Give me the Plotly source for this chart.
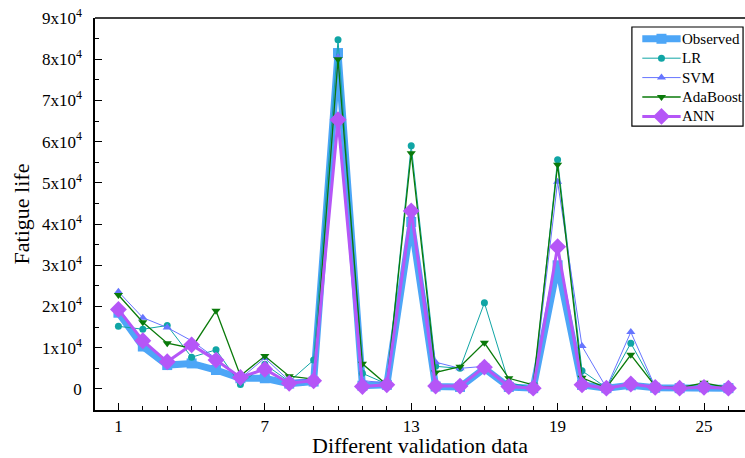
import plotly.graph_objects as go

# Validation sample index
samples = list(range(1, 27))

# Fatigue life: experimental vs. model predictions
observed = [18500, 10300, 5800, 6200, 4600, 2600, 2600, 1300, 1800, 81500, 800, 1000, 40500,
            600, 500, 5000, 500, 200, 30000, 1000, 200, 900, 300, 200, 400, 200]
lr = [15200, 14500, 15400, 7700, 9500, 1100, 6000, 1800, 7000, 84700, 3800, 1200, 59000,
      5500, 5000, 20900, 1500, 300, 55600, 4400, 300, 11100, 500, 300, 500, 300]
svm = [23600, 17300, 14900, 11700, 7400, 2500, 7500, 2000, 2500, 80500, 2000, 1500, 42000,
       6500, 5000, 5500, 1000, 300, 50300, 10400, 300, 13800, 500, 300, 600, 300]
adaboost = [22800, 16200, 11100, 9900, 19000, 3200, 8000, 3100, 2400, 80000, 6100, 1000, 57200,
            4000, 5400, 11200, 2600, 1000, 54400, 2700, 300, 8300, 700, 300, 1500, 300]
ann = [19300, 11700, 6600, 10700, 7000, 2800, 4800, 1400, 2000, 65300, 600, 1000, 43200,
       700, 700, 5300, 600, 200, 34500, 1000, 200, 1200, 400, 200, 400, 200]

series_names = ["Observed", "LR", "SVM", "AdaBoost", "ANN"]
series_values = [observed, lr, svm, adaboost, ann]

y_tickvals = [0, 10000, 20000, 30000, 40000, 50000, 60000, 70000, 80000, 90000]
y_ticktext = ["0"] + [f"{k}x10<sup>4</sup>" for k in range(1, 10)]
x_tickvals = [1, 7, 13, 19, 25]

FONT = "Liberation Serif"

# per-series styling
STYLES = {
    "Observed": dict(color="#4DA6F7", width=7, symbol="square", size=10),
    "LR": dict(color="#10A5A5", width=1, symbol="circle", size=7),
    "SVM": dict(color="#6675FF", width=1, symbol="triangle-up", size=8),
    "AdaBoost": dict(color="#0A7A0A", width=1.3, symbol="triangle-down", size=8),
    "ANN": dict(color="#B556F7", width=3, symbol="diamond", size=13),
}

fig = go.Figure()
for name, vals in zip(series_names, series_values):
    s = STYLES[name]
    fig.add_trace(go.Scatter(x=samples, y=vals, name=name, mode="lines+markers",
                             showlegend=False,
                             line=dict(color=s["color"], width=s["width"]),
                             marker=dict(symbol=s["symbol"], size=s["size"], color=s["color"])))

# Legend box drawn on a unit overlay axis (0..1 over the plot area)
LEG_X0, LEG_X1 = 0.826, 0.997
LEG_Y0, LEG_Y1 = 0.724, 0.977
LEG_ROW_TOP, LEG_ROW_STEP = 0.947, 0.0495
SAMPLE_X0, SAMPLE_X1 = 0.842, 0.901
TEXT_X = 0.903

fig.add_shape(type="rect", xref="paper", yref="paper", x0=LEG_X0, x1=LEG_X1,
              y0=LEG_Y0, y1=LEG_Y1, line=dict(color="black", width=1.2),
              fillcolor="white", layer="below")
for i, name in enumerate(series_names):
    s = STYLES[name]
    yy = LEG_ROW_TOP - i * LEG_ROW_STEP
    fig.add_trace(go.Scatter(x=[SAMPLE_X0, SAMPLE_X1], y=[yy, yy], xaxis="x2", yaxis="y2",
                             mode="lines", showlegend=False, hoverinfo="skip",
                             line=dict(color=s["color"], width=s["width"])))
    fig.add_trace(go.Scatter(x=[(SAMPLE_X0 + SAMPLE_X1) / 2], y=[yy], xaxis="x2", yaxis="y2",
                             mode="markers", showlegend=False, hoverinfo="skip",
                             marker=dict(symbol=s["symbol"], size=s["size"], color=s["color"])))
    fig.add_annotation(x=TEXT_X, y=yy, xref="x2", yref="y2", text=name, showarrow=False,
                       xanchor="left", yanchor="middle", xshift=-2,
                       font=dict(family=FONT, size=15, color="black"))

# top frame line (the right side is left open)
fig.add_shape(type="line", xref="paper", yref="paper", x0=0, x1=1, y0=1, y1=1,
              line=dict(color="black", width=1.5))

fig.update_layout(
    width=745, height=458,
    margin=dict(l=95, r=0, t=18, b=48),
    plot_bgcolor="white", paper_bgcolor="white",
    font=dict(family=FONT, size=17, color="black"),
    showlegend=False,
    xaxis=dict(range=[0.04, 26.68], tickvals=x_tickvals, ticks="inside", ticklen=7,
               tickwidth=1.2, tickcolor="black", showgrid=False, zeroline=False,
               showline=True, linecolor="black", linewidth=1.5,
               minor=dict(ticks="inside", ticklen=4, dtick=1, tick0=1, tickcolor="black",
                          showgrid=False),
               title=dict(text="Different validation data", font=dict(family=FONT, size=22),
                          standoff=5),
               tickfont=dict(family=FONT, size=17)),
    yaxis=dict(range=[-5100, 90000], tickvals=y_tickvals, ticktext=y_ticktext,
               ticks="inside", ticklen=7, tickwidth=1.2, tickcolor="black",
               showgrid=False, zeroline=False, showline=True, linecolor="black",
               linewidth=1.5, ticklabelstandoff=8,
               minor=dict(ticks="inside", ticklen=4, dtick=5000, tick0=0,
                          tickcolor="black", showgrid=False),
               title=dict(text="Fatigue life", font=dict(family=FONT, size=22), standoff=6),
               tickfont=dict(family=FONT, size=17)),
    xaxis2=dict(overlaying="x", range=[0, 1], visible=False, fixedrange=True),
    yaxis2=dict(overlaying="y", range=[0, 1], visible=False, fixedrange=True),
)

fig.write_html("out.html")
